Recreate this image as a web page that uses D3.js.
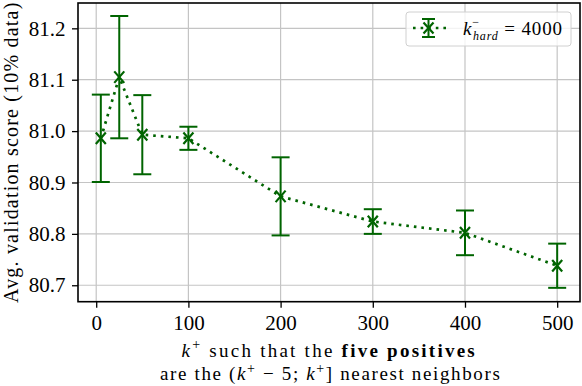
<!DOCTYPE html>
<html><head><meta charset="utf-8">
<script src="https://cdn.jsdelivr.net/npm/d3@7"></script>
<style>body{margin:0;background:#fff}svg{display:block}text{font-family:"Liberation Serif","DejaVu Serif",serif;fill:#000}</style>
</head><body>
<script>
const kPlus = [5, 25, 50, 100, 200, 300, 400, 500];
const meanScore = [80.986, 81.105, 80.993, 80.986, 80.873, 80.824, 80.802, 80.738];
const errScore = [0.085, 0.119, 0.077, 0.0225, 0.076, 0.024, 0.0435, 0.043];
const xTicks = [0, 100, 200, 300, 400, 500];
const yTicks = [80.7, 80.8, 80.9, 81.0, 81.1, 81.2];

const W = 582, H = 386;
const L = 78, R = 580, T = 3, B = 301.7;
const green = "#006400";
const svg = d3.select("body").append("svg").attr("width", W).attr("height", H);

const x = d3.scaleLinear().domain([-19.75, 524.75]).range([L, R]);
const y = d3.scaleLinear().domain([80.668, 81.2493]).range([B, T]);

// fit a text element horizontally between two positions via letter-spacing
function fit(sel, left, right) {
  const n = sel.text().length;
  sel.attr("x", left).attr("text-anchor", "start").style("letter-spacing", "0px");
  for (let i = 0; i < 3; i++) {
    const bb = sel.node().getBBox();
    const cur = parseFloat(sel.style("letter-spacing")) || 0;
    const ls = cur + ((right - left) - bb.width) / n;
    sel.style("letter-spacing", ls + "px");
  }
  const bb = sel.node().getBBox();
  sel.attr("x", +sel.attr("x") + (left - bb.x));
}

// grid
const g = svg.append("g");
g.selectAll(".gx").data(xTicks).enter().append("line")
  .attr("x1", d => x(d)).attr("x2", d => x(d)).attr("y1", T).attr("y2", B)
  .attr("stroke", "#c4c4c4").attr("stroke-width", 1.2);
g.selectAll(".gy").data(yTicks).enter().append("line")
  .attr("y1", d => y(d)).attr("y2", d => y(d)).attr("x1", L).attr("x2", R)
  .attr("stroke", "#c4c4c4").attr("stroke-width", 1.2);

// axes
const xAxis = svg.append("g").attr("transform", `translate(0,${B})`)
  .call(d3.axisBottom(x).tickValues(xTicks).tickFormat(d3.format("d")).tickSize(6));
const yAxis = svg.append("g").attr("transform", `translate(${L},0)`)
  .call(d3.axisLeft(y).tickValues(yTicks).tickFormat(d3.format(".1f")).tickSize(6).tickPadding(6.5));
[xAxis, yAxis].forEach(a => {
  a.select(".domain").remove();
  a.selectAll(".tick line").attr("stroke", "#000").attr("stroke-width", 1.3);
  a.selectAll(".tick text").attr("font-size", 21).attr("font-family", '"Liberation Serif",serif').attr("fill", "#000");
});
xAxis.selectAll(".tick text").attr("y", 28.5).attr("dy", "0");

// frame
svg.append("rect").attr("x", L).attr("y", T).attr("width", R - L).attr("height", B - T)
  .attr("fill", "none").attr("stroke", "#000").attr("stroke-width", 1.6);

// data
const data = kPlus.map((k, i) => ({k, m: meanScore[i], e: errScore[i]}));
const line = d3.line().x(d => x(d.k)).y(d => y(d.m));
svg.append("path").datum(data).attr("d", line).attr("fill", "none")
  .attr("stroke", green).attr("stroke-width", 2.7).attr("stroke-dasharray", "2.6,5");

const eb = svg.append("g").attr("stroke", green).attr("stroke-width", 2).attr("fill", "none");
const cap = 9;
data.forEach(d => {
  const cx = x(d.k), y0 = y(d.m - d.e), y1 = y(d.m + d.e);
  eb.append("line").attr("x1", cx).attr("x2", cx).attr("y1", y0).attr("y2", y1);
  eb.append("line").attr("x1", cx - cap).attr("x2", cx + cap).attr("y1", y0).attr("y2", y0);
  eb.append("line").attr("x1", cx - cap).attr("x2", cx + cap).attr("y1", y1).attr("y2", y1);
  const s = 5, cy = y(d.m);
  eb.append("path").attr("d", `M${cx - s},${cy - s * 1.15}L${cx + s},${cy + s * 1.15}M${cx - s},${cy + s * 1.15}L${cx + s},${cy - s * 1.15}`)
    .attr("stroke-width", 2.2);
});

// legend
const lg = svg.append("g");
lg.append("rect").attr("x", 406).attr("y", 12).attr("width", 165).attr("height", 34).attr("rx", 3)
  .attr("fill", "#fff").attr("fill-opacity", 0.8).attr("stroke", "#d0d0d0").attr("stroke-width", 1);
const ly = 28, lx = 428.5;
lg.append("line").attr("x1", 413).attr("x2", 448).attr("y1", ly).attr("y2", ly)
  .attr("stroke", green).attr("stroke-width", 2.7).attr("stroke-dasharray", "2.6,5");
const lgE = lg.append("g").attr("stroke", green).attr("stroke-width", 2).attr("fill", "none");
lgE.append("line").attr("x1", lx).attr("x2", lx).attr("y1", ly - 9).attr("y2", ly + 9);
lgE.append("line").attr("x1", lx - 6.5).attr("x2", lx + 6.5).attr("y1", ly - 9).attr("y2", ly - 9);
lgE.append("line").attr("x1", lx - 6.5).attr("x2", lx + 6.5).attr("y1", ly + 9).attr("y2", ly + 9);
lgE.append("path").attr("d", `M${lx-5},${ly-5.5}L${lx+5},${ly+5.5}M${lx-5},${ly+5.5}L${lx+5},${ly-5.5}`).attr("stroke-width", 2.2);
const lt = lg.append("text").attr("y", 34.5).attr("font-size", 19);
lt.append("tspan").attr("font-style", "italic").text("k");
lt.append("tspan").attr("dy", -9).attr("font-size", 12).text("−");
lt.append("tspan").attr("dx", -7).attr("dy", 14.5).attr("font-size", 12).attr("font-style", "italic").text("hard");
lt.append("tspan").attr("dy", -5.5).text(" = 4000");
fit(lt, 463, 563);

// x label
const xl1 = svg.append("text").attr("y", 356.5).attr("font-size", 19);
xl1.append("tspan").attr("font-style", "italic").text("k");
xl1.append("tspan").attr("dy", -8).attr("font-size", 14).text("+");
xl1.append("tspan").attr("dy", 8).text(" such that the ");
xl1.append("tspan").attr("font-weight", "bold").text("five positives");
fit(xl1, 181.5, 477);
const xl2 = svg.append("text").attr("y", 380).attr("font-size", 19);
xl2.append("tspan").text("are the (");
xl2.append("tspan").attr("font-style", "italic").text("k");
xl2.append("tspan").attr("dy", -7).attr("font-size", 14).text("+");
xl2.append("tspan").attr("dy", 7).text(" − 5; ");
xl2.append("tspan").attr("font-style", "italic").text("k");
xl2.append("tspan").attr("dy", -7).attr("font-size", 14).text("+");
xl2.append("tspan").attr("dy", 7).text("] nearest neighbors");
fit(xl2, 160, 501.5);

// y label
const yl = svg.append("g").attr("transform", "translate(18,0) rotate(-90)")
  .append("text").attr("y", 0).attr("font-size", 20).text("Avg. validation score (10% data)");
fit(yl, -303, -1.5);
</script>
</body></html>
